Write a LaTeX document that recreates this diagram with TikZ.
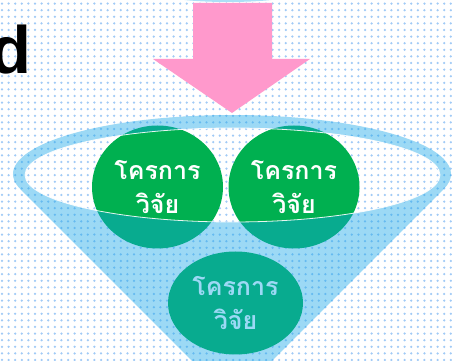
\documentclass[tikz,border=0pt]{standalone}
\usepackage{fontspec}
\setmainfont{Liberation Sans}
\newfontfamily\thaifont[Script=Thai]{Loma}
\usetikzlibrary{patterns.meta,shapes.geometric}
\definecolor{dotblue}{RGB}{160,202,246}
\definecolor{funnelblue}{RGB}{20,165,232}
\definecolor{pinkarrow}{RGB}{255,153,204}
\definecolor{circgreen}{RGB}{0,176,80}
\begin{document}
\begin{tikzpicture}[x=1pt,y=1pt,
  ball/.style={ellipse, fill=circgreen, draw=none, inner sep=0pt,
    minimum width=131pt, minimum height=123pt, text=white, align=center,
    font=\thaifont\bfseries\fontsize{25}{34}\selectfont},
  funnel/.style={fill=funnelblue, fill opacity=0.42, even odd rule},
]
\useasboundingbox (0,0) rectangle (452,361);
\fill[white] (0,0) rectangle (452,361);
\fill[pattern={Dots[distance=6.6pt,radius=1.25pt,xshift=2pt,yshift=1pt]}, pattern color=dotblue] (0,0) rectangle (452,361);
% band at top
\fill[funnelblue, fill opacity=0.35] (228,366) ellipse[x radius=62, y radius=7];
% letter
\node[anchor=base east, inner sep=0pt, font=\bfseries\fontsize{67}{67}\selectfont] (d) at (32,287) {d};
% arrow
\fill[pinkarrow] (193,358) -- (272,358) -- (272,302) -- (310,302) -- (232,248) -- (153,302) -- (193,302) -- cycle;
% balls
\node[ball] (c1) at (157.5,174) {โครการ\\วิจัย};
\node[ball] (c2) at (294,174) {โครการ\\วิจัย};
\node[ball, minimum width=135pt, minimum height=103pt] (c3) at (235.5,58) {โครการ\\วิจัย};
% funnel
\fill[funnel] (20.5,171.7) arc[start angle=195, end angle=-15, x radius=219, y radius=59] -- (232,-39.8) -- cycle
  (232.5,186) ellipse[x radius=207.5, y radius=47];
\draw[white, line width=0.8pt, opacity=0.9] (232.5,186) ellipse[x radius=207.5, y radius=47];
\end{tikzpicture}
\end{document}
